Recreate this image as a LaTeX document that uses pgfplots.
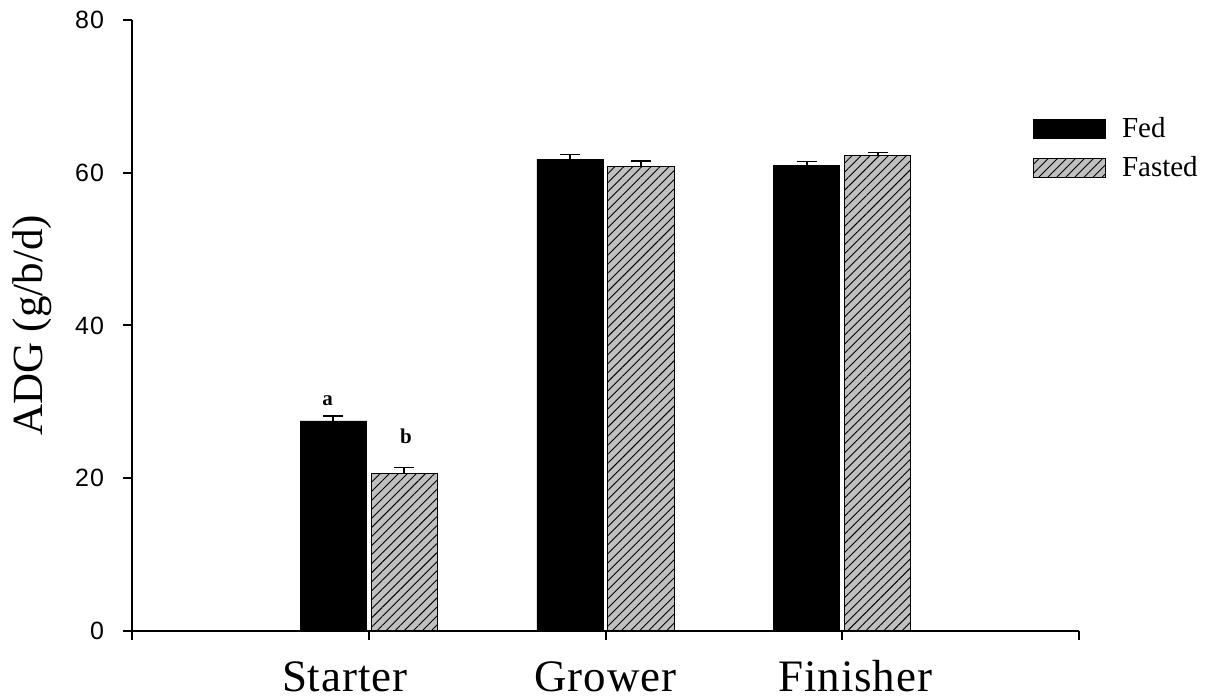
\documentclass[border=0pt]{standalone}
\usepackage{pgfplots}
\pgfplotsset{compat=1.18}
\usetikzlibrary{patterns.meta}
\usepackage{fontspec}
\setmainfont{Liberation Serif}
\newfontfamily\arial{Liberation Sans}
\definecolor{hatchgray}{RGB}{192,192,192}

\begin{document}
\begin{tikzpicture}
\path[use as bounding box] (0,0) rectangle (608pt,350pt);
\begin{axis}[
  at={(66pt,34.5pt)}, anchor=south west,
  scale only axis, width=473.5pt, height=305.5pt,
  xmin=0, xmax=4, ymin=0, ymax=80,
  axis x line*=bottom, axis y line*=left,
  axis line style={line width=1pt, black},
  xtick={0,1,2,3,4},
  xticklabels={,{Starter\hspace*{24pt}},Grower,{\hspace*{13pt}Finisher},},
  ytick={0,20,40,60,80},
  tick align=outside, major tick length=4.5pt,
  tick style={line width=1pt, black},
  /pgf/number format/assume math mode=true,
  yticklabel style={font=\arial\addfontfeatures{LetterSpace=4}\fontsize{12.5}{14}\selectfont, xshift=-6pt},
  xticklabel style={font=\addfontfeatures{LetterSpace=2}\fontsize{22.5}{26}\selectfont, anchor=base, yshift=-26pt, inner sep=0pt, text depth=0pt},
  ylabel={ADG (g/b/d)},
  ylabel style={font=\fontsize{21.5}{24}\selectfont, at={(axis description cs:-0.1056,0.5)}, anchor=center},
  legend style={draw=none, fill=none, inner sep=0pt, outer sep=0pt,
    at={(axis cs:3.8057,67.25)}, anchor=north west,
    row sep=8pt, column sep=8pt,
    font=\fontsize{14.5}{17}\selectfont,
    nodes={inner sep=0pt}},
  legend cell align=left,
]
\addplot[ybar, bar width=0.279, bar shift=0pt, fill=black, draw=black,
  error bars/.cd, y dir=plus, y explicit,
  error bar style={line width=0.8pt, black},
  error mark options={line width=0.8pt, mark size=5pt, black, rotate=90}]
  coordinates {(0.85,27.5) +- (0,0.65) (1.85,61.8) +- (0,0.57) (2.85,61.0) +- (0,0.45)};
\addlegendentry{Fed}
\addplot[ybar, bar width=0.279, bar shift=0pt, fill=hatchgray, draw=black, line width=0.5pt,
  postaction={pattern={Lines[angle=45,distance=3.2pt,line width=0.45pt]}},
  error bars/.cd, y dir=plus, y explicit,
  error bar style={line width=0.8pt, black},
  error mark options={line width=0.8pt, mark size=5pt, black, rotate=90}]
  coordinates {(1.15,20.65) +- (0,0.78) (2.15,60.8) +- (0,0.74) (3.15,62.2) +- (0,0.45)};
\addlegendentry{Fasted}
\pgfplotsset{legend image code/.code={\draw[#1] (0pt,-4.5pt) rectangle (36pt,5pt);}}
\node[font=\bfseries\fontsize{10.5}{12}\selectfont, anchor=base] at (axis cs:0.826,29.46) {a};
\node[font=\bfseries\fontsize{10.5}{12}\selectfont, anchor=base] at (axis cs:1.157,24.5) {b};
\end{axis}
\end{tikzpicture}
\end{document}
